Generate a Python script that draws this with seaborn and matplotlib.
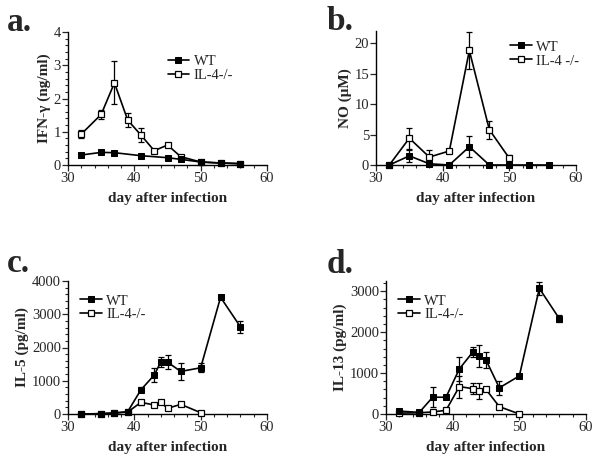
import numpy as np
import pandas as pd
import matplotlib
matplotlib.use("Agg")
import matplotlib.pyplot as plt
from matplotlib.ticker import MultipleLocator
import seaborn as sns

# ---- data ----
a_wt_day = [32, 35, 37, 41, 45, 47, 50, 53, 56]
a_wt_val = [0.30, 0.38, 0.37, 0.28, 0.22, 0.17, 0.09, 0.06, 0.04]
a_wt_err = [0.03, 0.03, 0.03, 0.02, 0.02, 0.02, 0.01, 0.01, 0.01]
a_ko_day = [32, 35, 37, 39, 41, 43, 45, 47, 50, 53, 56]
a_ko_val = [0.93, 1.52, 2.47, 1.35, 0.90, 0.43, 0.60, 0.25, 0.09, 0.06, 0.04]
a_ko_err = [0.12, 0.14, 0.65, 0.20, 0.20, 0.05, 0.05, 0.05, 0.0, 0.0, 0.0]

b_wt_day = [32, 35, 38, 41, 44, 47, 50, 53, 56]
b_wt_val = [0, 1.5, 0.2, 0, 3.0, 0, 0, 0, 0]
b_wt_err = [0, 1.0, 0.3, 0, 1.7, 0, 0, 0, 0]
b_ko_day = [32, 35, 38, 41, 44, 47, 50]
b_ko_val = [0, 4.4, 1.3, 2.3, 18.8, 5.8, 1.1]
b_ko_err = [0, 1.7, 1.1, 0.4, 3.0, 1.5, 0.5]

c_wt_day = [32, 35, 37, 39, 41, 43, 44, 45, 47, 50, 53, 56]
c_wt_val = [0, 10, 30, 70, 730, 1170, 1570, 1560, 1280, 1390, 3510, 2620]
c_wt_err = [0, 0, 0, 60, 80, 200, 150, 200, 250, 130, 0, 170]
c_ko_day = [32, 35, 37, 39, 41, 43, 44, 45, 47, 50]
c_ko_val = [0, 10, 30, 60, 350, 270, 350, 170, 290, 40]
c_ko_err = [0, 0, 0, 0, 80, 40, 50, 30, 30, 20]

d_wt_day = [32, 35, 37, 39, 41, 43, 44, 45, 47, 50, 53, 56]
d_wt_val = [70, 40, 410, 410, 1100, 1510, 1420, 1320, 640, 930, 3070, 2330]
d_wt_err = [0, 0, 240, 0, 300, 120, 270, 200, 170, 0, 150, 80]
d_ko_day = [32, 35, 37, 39, 41, 43, 44, 45, 47, 50]
d_ko_val = [20, 30, 50, 90, 670, 620, 560, 600, 180, 0]
d_ko_err = [0, 0, 0, 0, 270, 130, 200, 50, 0, 0]

panel_letters = ["a.", "b.", "c.", "d."]
ylabels = ["IFN-\u03b3 (ng/ml)", "NO (\u03bcM)", "IL-5 (pg/ml)", "IL-13 (pg/ml)"]
ko_labels = ["IL-4-/-", "IL-4 -/-", "IL-4-/-", "IL-4-/-"]
xlabel = "day after infection"

sns.set_style("ticks")
plt.rcParams["font.family"] = ["Liberation Serif", "DejaVu Serif"]
plt.rcParams["mathtext.fontset"] = "stix"

fig = plt.figure(figsize=(6.01, 4.62), dpi=100)
W, H = 601, 462

def px_axes(l, r, t, b):
    return fig.add_axes([l / W, 1 - b / H, (r - l) / W, (b - t) / H])

axes = [
    px_axes(68, 267, 32, 165),
    px_axes(376, 576, 31, 165),
    px_axes(68, 267, 281, 414),
    px_axes(386, 586, 281, 414),
]

data = [
    (a_wt_day, a_wt_val, a_wt_err, a_ko_day, a_ko_val, a_ko_err),
    (b_wt_day, b_wt_val, b_wt_err, b_ko_day, b_ko_val, b_ko_err),
    (c_wt_day, c_wt_val, c_wt_err, c_ko_day, c_ko_val, c_ko_err),
    (d_wt_day, d_wt_val, d_wt_err, d_ko_day, d_ko_val, d_ko_err),
]
ylims = [(0, 4), (0, 22), (0, 4000), (0, 3250)]
ymaj = [1, 5, 1000, 1000]
ymin = [0.2, None, 200, 200]
leg_anchor = [(0.50, 0.83), (0.67, 0.93), (0.06, 0.90), (0.06, 0.90)]
letter_pos = [(7, 31), (327, 30), (7, 272), (327, 273)]

for i, ax in enumerate(axes):
    wd, wv, we, kd, kv, ke = data[i]
    df_wt = pd.DataFrame({"day": wd, "val": wv})
    df_ko = pd.DataFrame({"day": kd, "val": kv})
    ax.errorbar(kd, kv, yerr=ke, fmt="none", ecolor="black", elinewidth=0.9,
                capsize=2.5, capthick=0.9, zorder=2, clip_on=False)
    ax.errorbar(wd, wv, yerr=we, fmt="none", ecolor="black", elinewidth=0.9,
                capsize=2.5, capthick=0.9, zorder=2, clip_on=False)
    sns.lineplot(data=df_ko, x="day", y="val", ax=ax, color="black", marker="s",
                 markersize=5, markerfacecolor="white", markeredgecolor="black",
                 markeredgewidth=0.9, linewidth=1.2, label=ko_labels[i], zorder=3,
                 clip_on=False)
    sns.lineplot(data=df_wt, x="day", y="val", ax=ax, color="black", marker="s",
                 markersize=5, markerfacecolor="black", markeredgecolor="black",
                 linewidth=1.2, label="WT", zorder=4, clip_on=False)
    ax.set_xlim(30, 60)
    ax.set_ylim(*ylims[i])
    ax.xaxis.set_major_locator(MultipleLocator(10))
    ax.xaxis.set_minor_locator(MultipleLocator(2))
    ax.yaxis.set_major_locator(MultipleLocator(ymaj[i]))
    if ymin[i]:
        ax.yaxis.set_minor_locator(MultipleLocator(ymin[i]))
    ax.tick_params(which="major", direction="out", length=4, width=0.9, labelsize=10.5, pad=1)
    ax.tick_params(which="minor", direction="out", length=2, width=0.8)
    for s in ["left", "bottom"]:
        ax.spines[s].set_linewidth(1.0)
        ax.spines[s].set_color("black")
    sns.despine(ax=ax)
    ax.set_xlabel(xlabel, fontsize=11, fontweight="bold", labelpad=5)
    ax.set_ylabel(ylabels[i], fontsize=11, fontweight="bold", labelpad=2)
    h, l = ax.get_legend_handles_labels()
    ax.legend(h[::-1], l[::-1], loc="upper left", bbox_to_anchor=leg_anchor[i],
              frameon=False, fontsize=10.5, handlelength=1.5, handletextpad=0.3,
              labelspacing=0.05, borderpad=0, borderaxespad=0)
    lx, ly = letter_pos[i]
    fig.text(lx / W, 1 - ly / H, panel_letters[i], fontsize=24, fontweight="bold",
             ha="left", va="baseline")

fig.savefig("out.png", dpi=100)
